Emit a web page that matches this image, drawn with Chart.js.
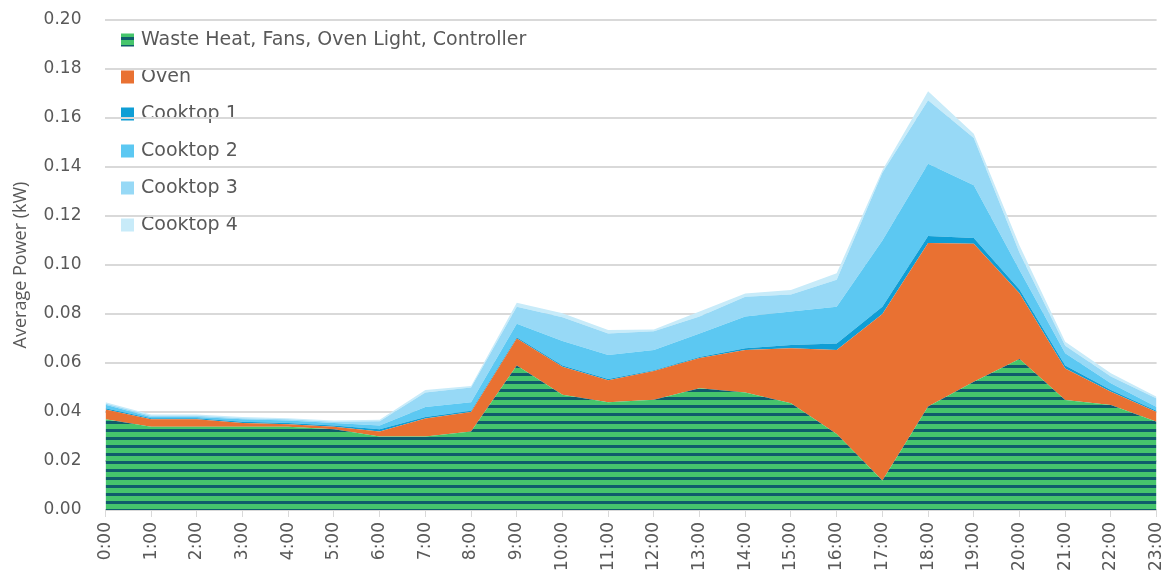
<!DOCTYPE html>
<html>
<head>
<meta charset="utf-8">
<script src="https://cdn.jsdelivr.net/npm/chart.js@4.4.1/dist/chart.umd.min.js"></script>
<style>
  html, body { margin: 0; padding: 0; background: #fff; overflow: hidden; }
  #wrap { width: 1182px; height: 582px; }
</style>
</head>
<body>
<div id="wrap"><canvas id="powerChart"></canvas></div>
<script>
const hours = ["0:00", "1:00", "2:00", "3:00", "4:00", "5:00", "6:00", "7:00", "8:00", "9:00", "10:00", "11:00",
    "12:00", "13:00", "14:00", "15:00", "16:00", "17:00", "18:00", "19:00", "20:00", "21:00", "22:00", "23:00"];

const wasteHeat = [0.037, 0.034, 0.034, 0.034, 0.034, 0.033, 0.030, 0.030, 0.032, 0.059, 0.047, 0.044,
    0.045, 0.0497, 0.048, 0.0436, 0.031, 0.012, 0.0422, 0.0524, 0.0616, 0.0449, 0.0429, 0.036];
const oven = [0.004, 0.003, 0.003, 0.0015, 0.001, 0.001, 0.002, 0.0074, 0.008, 0.011, 0.0115, 0.009,
    0.0117, 0.0123, 0.0173, 0.0224, 0.0343, 0.068, 0.0668, 0.0563, 0.0269, 0.0129, 0.0054, 0.004];
const cooktop1 = [0.0005, 0.0005, 0.0005, 0.0005, 0.0005, 0.0005, 0.001, 0.0006, 0.0005, 0.0005, 0.0005, 0.0005,
    0.0003, 0.0005, 0.0007, 0.0013, 0.0027, 0.003, 0.0028, 0.0023, 0.0015, 0.0012, 0.0007, 0.0005];
const cooktop2 = [0.0015, 0.0005, 0.0005, 0.001, 0.001, 0.001, 0.0015, 0.004, 0.0035, 0.0055, 0.010, 0.0098,
    0.0083, 0.0095, 0.013, 0.0137, 0.015, 0.027, 0.0295, 0.0216, 0.008, 0.005, 0.0027, 0.0015];
const cooktop3 = [0.0005, 0.0005, 0.0005, 0.0005, 0.0005, 0.0005, 0.0017, 0.006, 0.006, 0.007, 0.0097, 0.0087,
    0.0077, 0.007, 0.008, 0.007, 0.011, 0.0277, 0.0259, 0.0192, 0.007, 0.003, 0.0028, 0.0035];
const cooktop4 = [0.0005, 0.0005, 0.0005, 0.0005, 0.0005, 0.0005, 0.0006, 0.001, 0.0006, 0.0016, 0.0016, 0.0015,
    0.0007, 0.002, 0.0014, 0.0018, 0.0026, 0.001, 0.0037, 0.0018, 0.003, 0.0017, 0.0013, 0.0007];

const FONT = "'DejaVu Sans', sans-serif";
const TITLE_FONT = "'Open Sans', 'Noto Sans', sans-serif";
const TEXT = "#595959";

// horizontal green / dark teal stripes for the base load
function makeStripes() {
    const c = document.createElement("canvas");
    c.width = 8;
    c.height = 8;
    const g = c.getContext("2d");
    g.fillStyle = "#46c56c";
    g.fillRect(0, 0, 8, 5);
    g.fillStyle = "#105d6b";
    g.fillRect(0, 5, 8, 3);
    return g.createPattern(c, "repeat");
}

const ctx = document.getElementById("powerChart").getContext("2d");
const stripes = makeStripes();

function area(label, data, color, fill) {
    return {
        label: label,
        data: data,
        backgroundColor: color,
        borderColor: color,
        borderWidth: 0,
        pointRadius: 0,
        tension: 0,
        fill: fill
    };
}

const insideLegend = {
    id: "insideLegend",
    beforeDraw(chart, args, opts) {
        const c = chart.ctx;
        c.save();
        c.font = `${opts.size}px ${FONT}`;
        c.textBaseline = "middle";
        chart.data.datasets.forEach((ds, i) => {
            const y = opts.top + i * opts.gap;
            c.fillStyle = ds.backgroundColor;
            c.fillRect(opts.left, y - 6.5, 13, 13);
            c.fillStyle = TEXT;
            c.fillText(ds.label, opts.left + 20, y);
        });
        c.restore();
    }
};

const chart = new Chart(ctx, {
    type: "line",
    data: {
        labels: hours,
        datasets: [
            area("Waste Heat, Fans, Oven Light, Controller", wasteHeat, stripes, "origin"),
            area("Oven", oven, "#e97132", "-1"),
            area("Cooktop 1", cooktop1, "#0f9ed5", "-1"),
            area("Cooktop 2", cooktop2, "#5cc8f2", "-1"),
            area("Cooktop 3", cooktop3, "#97d9f6", "-1"),
            area("Cooktop 4", cooktop4, "#c8ebf9", "-1")
        ]
    },
    plugins: [insideLegend],
    options: {
        responsive: true,
        maintainAspectRatio: false,
        animation: false,
        layout: { padding: { top: 20, right: 0, bottom: 6, left: 10 } },
        plugins: {
            legend: { display: false },
            tooltip: { enabled: false },
            insideLegend: { left: 121, top: 40, gap: 37, size: 19 }
        },
        scales: {
            x: {
                offset: false,
                grid: { drawOnChartArea: false, drawTicks: true, tickLength: 7, color: "#d9d9d9" },
                border: { color: "#d9d9d9" },
                ticks: {
                    color: TEXT,
                    font: { family: FONT, size: 17 },
                    minRotation: 90,
                    maxRotation: 90,
                    autoSkip: false,
                    padding: 5
                }
            },
            y: {
                stacked: true,
                min: 0,
                max: 0.2,
                grid: { color: "#d9d9d9", lineWidth: 2, drawTicks: true, tickLength: 21, tickColor: "rgba(0,0,0,0)" },
                border: { display: false },
                ticks: {
                    stepSize: 0.02,
                    color: TEXT,
                    font: { family: FONT, size: 17 },
                    padding: 3,
                    callback: v => v.toFixed(2)
                },
                title: {
                    display: true,
                    text: "Average Power (kW)",
                    color: TEXT,
                    font: { family: TITLE_FONT, size: 18 },
                    padding: { top: 0, bottom: 9 }
                }
            }
        }
    }
});
</script>
</body>
</html>
